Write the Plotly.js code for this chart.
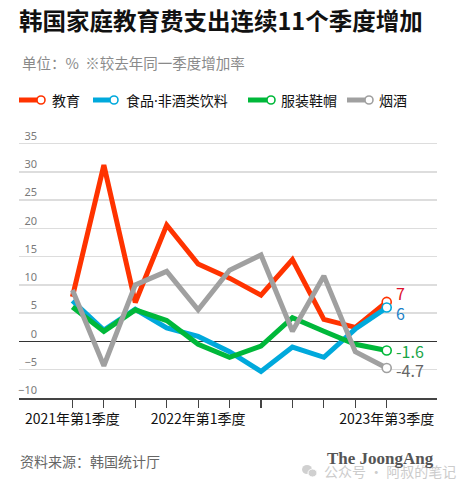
<!DOCTYPE html>
<html>
<head>
<meta charset="utf-8">
<script src="https://cdn.plot.ly/plotly-3.0.1.min.js"></script>
<style>
html,body{margin:0;padding:0;background:#fff;}
#chart{width:466px;height:488px;}
</style>
</head>
<body>
<div id="chart"></div>
<script>
// ---- data ----
const quarters = ['2021Q1','2021Q2','2021Q3','2021Q4','2022Q1','2022Q2','2022Q3','2022Q4','2023Q1','2023Q2','2023Q3'];
const quarterLabels = ['2021年第1季度','','','','2022年第1季度','','','','','','2023年第3季度'];
const seriesNames = ['教育','食品<span style="font-family:Noto Sans">·</span>非酒类饮料','服装鞋帽','烟酒'];
const education = [7.9, 31.2, 6.9, 20.6, 13.7, 11.2, 8.2, 14.5, 3.9, 2.5, 7];
const food = [7.2, 2.0, 5.7, 2.4, 0.9, -1.8, -5.3, -1.0, -2.8, 2.2, 6];
const clothing = [6.1, 1.8, 5.6, 3.7, -0.5, -2.8, -0.8, 4.2, 1.8, -0.5, -1.6];
const tobaccoAlcohol = [9.1, -4.3, 10.0, 12.4, 5.6, 12.6, 15.3, 1.8, 11.6, -1.8, -4.7];
const endLabels = ['7','6','-1.6','-4.7'];
const yTicks = [-10, -5, 0, 5, 10, 15, 20, 25, 30, 35];

// ---- styles ----
const lineColors = ['#ff3300', '#00a9dc', '#00b83a', '#a0a0a0'];
const labelColors = ['#e0102a', '#1a7fc8', '#17a546', '#666666'];
const labelYShift = [9, -5, 0, -2];
const allSeries = [education, food, clothing, tobaccoAlcohol];

const W = 466, H = 488;
const L = 19, R = 437, T = 138, B = 398;
const px = x => (x - L) / (R - L);
const py = y => (B - y) / (B - T);
const CJK = '"Noto Sans CJK SC", "Noto Sans", sans-serif';

const traces = [];
allSeries.forEach((vals, i) => {
  traces.push({
    x: quarters, y: vals, type: 'scatter', mode: 'lines',
    name: seriesNames[i], showlegend: false, hoverinfo: 'skip',
    line: {color: lineColors[i], width: 5, shape: 'linear'}
  });
});
allSeries.forEach((vals, i) => {
  traces.push({
    x: [quarters[quarters.length-1]], y: [vals[vals.length-1]],
    type: 'scatter', mode: 'markers', showlegend: false, hoverinfo: 'skip',
    marker: {symbol: 'circle', size: 9, color: '#fff', line: {color: lineColors[i], width: 1.6}}
  });
});

const annotations = [];
const shapes = [];

// end labels
allSeries.forEach((vals, i) => {
  annotations.push({
    x: quarters[quarters.length-1], y: vals[vals.length-1], xref: 'x', yref: 'y',
    text: endLabels[i], showarrow: false, xanchor: 'left', yanchor: 'middle',
    xshift: 7, yshift: labelYShift[i],
    font: {family: CJK, size: 16, color: labelColors[i]}
  });
});

// subtitle
annotations.push({
  xref: 'paper', yref: 'paper', x: px(20), y: py(63), xanchor: 'left', yanchor: 'middle',
  text: '单位：%  ※较去年同一季度增加率', showarrow: false,
  font: {family: CJK, size: 14.5, color: '#8a8a8a'}
});

// legend
const legLineX = [[19, 37], [93, 110], [248, 267], [347, 365]];
const legTextX = [50, 124, 279, 377];
const legY = 100;
seriesNames.forEach((n, i) => {
  shapes.push({
    type: 'line', xref: 'paper', yref: 'paper',
    x0: px(legLineX[i][0]), x1: px(legLineX[i][1]), y0: py(legY), y1: py(legY),
    line: {color: lineColors[i], width: 5}
  });
  shapes.push({
    type: 'circle', xref: 'paper', yref: 'paper',
    x0: px(legLineX[i][1]), x1: px(legLineX[i][1] + 8), y0: py(legY + 4), y1: py(legY - 4),
    fillcolor: '#fff', line: {color: lineColors[i], width: 1.6}
  });
  annotations.push({
    xref: 'paper', yref: 'paper', x: px(legTextX[i]), y: py(legY), xanchor: 'left', yanchor: 'middle',
    text: n, showarrow: false, font: {family: CJK, size: 14, color: '#111'}
  });
});

// footer
annotations.push({
  xref: 'paper', yref: 'paper', x: px(18), y: py(461), xanchor: 'left', yanchor: 'middle',
  text: '资料来源：韩国统计厅', showarrow: false,
  font: {family: CJK, size: 14, color: '#666'}
});
annotations.push({
  xref: 'paper', yref: 'paper', x: px(322), y: py(471), xanchor: 'left', yanchor: 'middle',
  text: '公众号 · 阿叔的笔记', showarrow: false,
  font: {family: CJK, size: 14, color: '#cccccc'}
});
annotations.push({
  xref: 'paper', yref: 'paper', x: px(325), y: py(458), xanchor: 'left', yanchor: 'middle',
  text: '<b>The JoongAng</b>', showarrow: false,
  font: {family: '"Liberation Serif", "DejaVu Serif", serif', size: 17, color: '#555'}
});
// small watermark icon
shapes.push({type:'circle', xref:'paper', yref:'paper', x0:px(302), x1:px(312), y0:py(474), y1:py(465), fillcolor:'#d0d0d0', line:{width:0}});
shapes.push({type:'circle', xref:'paper', yref:'paper', x0:px(308), x1:px(317), y0:py(477), y1:py(469), fillcolor:'#d0d0d0', line:{color:'#fff', width:1}});

const layout = {
  width: W, height: H,
  margin: {l: L, r: W - R, t: T, b: H - B, pad: 0},
  paper_bgcolor: '#fff', plot_bgcolor: '#fff',
  showlegend: false,
  title: {
    text: '<b>韩国家庭教育费支出连续11个季度增加</b>',
    x: 19 / W, xanchor: 'left', xref: 'container',
    y: 1 - 22 / H, yanchor: 'middle', yref: 'container',
    font: {family: CJK, size: 23.5, color: '#111'}
  },
  xaxis: {
    type: 'category', range: [-1.7, 11.6],
    tickmode: 'array', tickvals: quarters, ticktext: quarterLabels,
    ticks: 'outside', ticklen: 8, tickwidth: 1.2, tickcolor: '#444',
    showline: true, linecolor: '#444', linewidth: 1.5,
    showgrid: false, zeroline: false, fixedrange: true,
    tickfont: {family: CJK, size: 14, color: '#111'}
  },
  yaxis: {
    range: [-10, 36], tickmode: 'array', tickvals: yTicks,
    showgrid: true, gridcolor: '#dddddd', gridwidth: 1.5,
    zeroline: true, zerolinecolor: '#333', zerolinewidth: 1.2,
    showline: false, ticks: '',
    ticklabelposition: 'outside top', ticklabelstandoff: -19,
    tickfont: {family: '"Noto Sans", sans-serif', size: 11, color: '#7a7a7a'},
    fixedrange: true
  },
  shapes: shapes,
  annotations: annotations
};

Plotly.newPlot('chart', traces, layout, {staticPlot: true, displayModeBar: false});
</script>
</body>
</html>
